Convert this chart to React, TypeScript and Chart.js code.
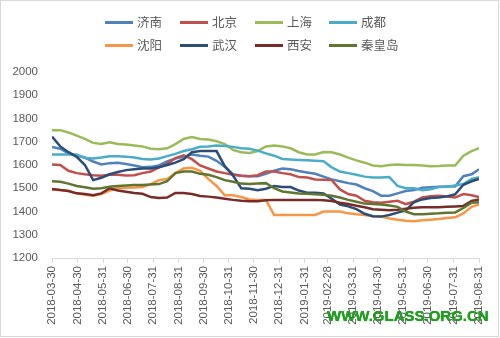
import React, { useEffect, useRef } from 'react';
import { Chart, registerables } from 'chart.js';

Chart.register(...registerables);

// Sample dates (roughly every 10 days)
const sampleDates = [
  '2018-03-30', '2018-04-09', '2018-04-19', '2018-04-29', '2018-05-09', '2018-05-19', '2018-05-29',
  '2018-06-08', '2018-06-18', '2018-06-28', '2018-07-08', '2018-07-18', '2018-07-28', '2018-08-07',
  '2018-08-17', '2018-08-27', '2018-09-06', '2018-09-16', '2018-09-26', '2018-10-06', '2018-10-16',
  '2018-10-26', '2018-11-05', '2018-11-15', '2018-11-25', '2018-12-05', '2018-12-15', '2018-12-25',
  '2019-01-04', '2019-01-14', '2019-01-24', '2019-02-03', '2019-02-13', '2019-02-23', '2019-03-05',
  '2019-03-15', '2019-03-25', '2019-04-04', '2019-04-14', '2019-04-24', '2019-05-04', '2019-05-14',
  '2019-05-24', '2019-06-03', '2019-06-13', '2019-06-23', '2019-07-03', '2019-07-13', '2019-07-23',
  '2019-08-02', '2019-08-12', '2019-08-22', '2019-08-31',
];

const tickLabels = [
  '2018-03-30', '2018-04-30', '2018-05-31', '2018-06-30', '2018-07-31', '2018-08-31',
  '2018-09-30', '2018-10-31', '2018-11-30', '2018-12-31', '2019-01-31', '2019-02-28',
  '2019-03-31', '2019-04-30', '2019-05-31', '2019-06-30', '2019-07-31', '2019-08-31',
];

const seriesNames = ['济南', '北京', '上海', '成都', '沈阳', '武汉', '西安', '秦皇岛'];
const seriesColors = ['#4F81BD', '#C0504D', '#9BBB59', '#4BACC6', '#F79646', '#2C4D75', '#772C2A', '#5F7530'];

const jinan = [
  1678, 1670, 1650, 1640, 1632, 1615, 1602, 1608, 1610, 1604, 1598, 1590, 1592, 1598,
  1615, 1628, 1636, 1645, 1640, 1636, 1618, 1592, 1560, 1554, 1552, 1552, 1562, 1575,
  1585, 1582, 1574, 1568, 1562, 1550, 1538, 1530, 1522, 1516, 1500, 1488, 1468, 1468,
  1478, 1488, 1492, 1502, 1504, 1506, 1508, 1508, 1552, 1560, 1582,
];
const beijing = [
  1602, 1600, 1575, 1565, 1560, 1556, 1554, 1558, 1558, 1555, 1556, 1565, 1572, 1590,
  1605, 1630, 1642, 1625, 1598, 1585, 1572, 1565, 1558, 1554, 1552, 1556, 1572, 1572,
  1565, 1560, 1548, 1546, 1538, 1537, 1535, 1495, 1475, 1468, 1446, 1440, 1438, 1442,
  1446, 1432, 1442, 1460, 1466, 1468, 1465, 1460, 1475, 1470, 1462,
];
const shanghai = [
  1750, 1750, 1740, 1726, 1712, 1695, 1690, 1698, 1690, 1688, 1684, 1680, 1670, 1668,
  1672, 1690, 1712, 1720, 1712, 1710, 1702, 1690, 1665, 1655, 1652, 1660, 1680, 1684,
  1680, 1672, 1655, 1645, 1645, 1656, 1655, 1645, 1632, 1620, 1610, 1598, 1595, 1600,
  1602, 1600, 1600, 1598, 1595, 1596, 1598, 1598, 1640, 1660, 1672,
];
const chengdu = [
  1645, 1645, 1645, 1645, 1630, 1628, 1632, 1638, 1638, 1636, 1632, 1626, 1624, 1628,
  1638, 1648, 1660, 1668, 1678, 1680, 1684, 1682, 1678, 1672, 1670, 1662, 1650, 1640,
  1626, 1624, 1622, 1620, 1618, 1616, 1590, 1572, 1565, 1558, 1550, 1546, 1546, 1548,
  1510, 1500, 1500, 1492, 1496, 1505, 1506, 1512, 1518, 1540, 1548,
];
const shenyang = [
  1494, 1492, 1488, 1478, 1472, 1468, 1475, 1490, 1500, 1502, 1503, 1505, 1518, 1535,
  1540, 1565, 1585, 1588, 1575, 1540, 1510, 1470, 1470, 1462, 1452, 1450, 1450, 1385,
  1385, 1385, 1385, 1385, 1385, 1400, 1400, 1400, 1392, 1388, 1385, 1380, 1378, 1370,
  1365, 1360, 1358, 1362, 1365, 1368, 1372, 1375, 1392, 1420, 1430,
];
const wuhan = [
  1722, 1680, 1655, 1635, 1600, 1535, 1545, 1560, 1570, 1578, 1582, 1585, 1585, 1590,
  1600, 1610, 1625, 1655, 1660, 1660, 1660, 1595, 1555, 1500, 1498, 1492, 1498, 1510,
  1505, 1505, 1490, 1481, 1481, 1478, 1455, 1430, 1422, 1410, 1390, 1380, 1378, 1385,
  1395, 1405, 1440, 1452, 1458, 1460, 1465, 1474, 1515, 1530, 1540,
];
const xian = [
  1497, 1492, 1488, 1478, 1475, 1470, 1478, 1500, 1490, 1485, 1480, 1476, 1462, 1458,
  1460, 1480, 1480, 1475, 1467, 1464, 1460, 1455, 1450, 1446, 1444, 1444, 1448, 1450,
  1450, 1450, 1450, 1450, 1450, 1448, 1445, 1438, 1432, 1425, 1418, 1410, 1408, 1405,
  1408, 1412, 1416, 1418, 1418, 1418, 1420, 1422, 1424, 1445, 1452,
];
const qinhuangdao = [
  1530, 1528, 1520, 1510, 1504, 1498, 1500, 1506, 1510, 1512, 1514, 1514, 1516, 1518,
  1530, 1565, 1572, 1572, 1562, 1558, 1548, 1535, 1528, 1520, 1518, 1520, 1522, 1500,
  1486, 1482, 1477, 1476, 1474, 1472, 1468, 1460, 1450, 1442, 1434, 1432, 1430, 1426,
  1420, 1400, 1388, 1388, 1390, 1392, 1395, 1396, 1415, 1438, 1440,
];

const seriesValues = [jinan, beijing, shanghai, chengdu, shenyang, wuhan, xian, qinhuangdao];

const DAY_MS = 86400000;
const startMs = Date.parse(sampleDates[0]);
const toDay = (s: string) => Math.round((Date.parse(s) - startMs) / DAY_MS);

const TEXT_COLOR = '#595959';
const AXIS_FONT = { family: "'Liberation Sans', Arial, sans-serif", size: 11.5 };

function Legend() {
  const lefts = [105, 180, 255, 329];
  const tops = [22, 45];
  return (
    <>
      {seriesNames.map((name, i) => {
        const left = lefts[i % 4];
        const top = tops[Math.floor(i / 4)];
        return (
          <div
            key={name}
            style={{
              position: 'absolute',
              left,
              top: top - 9,
              height: 18,
              display: 'flex',
              alignItems: 'center',
              whiteSpace: 'nowrap',
            }}
          >
            <span style={{ display: 'inline-block', width: 28, height: 3, background: seriesColors[i] }} />
            <span
              style={{
                marginLeft: 4,
                fontFamily: "'Noto Sans CJK SC', sans-serif",
                fontSize: 12.5,
                color: TEXT_COLOR,
                lineHeight: '18px',
              }}
            >
              {name}
            </span>
          </div>
        );
      })}
    </>
  );
}

export default function App() {
  const canvasRef = useRef<HTMLCanvasElement>(null);

  useEffect(() => {
    const xs = sampleDates.map(toDay);
    const tickDays = tickLabels.map(toDay);
    const chart = new Chart(canvasRef.current as HTMLCanvasElement, {
      type: 'line',
      data: {
        datasets: seriesValues.map((vals, i) => ({
          label: seriesNames[i],
          data: vals.map((y, j) => ({ x: xs[j], y })),
          borderColor: seriesColors[i],
          backgroundColor: seriesColors[i],
          borderWidth: 2.5,
          pointRadius: 0,
          tension: 0,
          fill: false,
          order: seriesValues.length - i,
        })),
      },
      options: {
        animation: false,
        responsive: true,
        maintainAspectRatio: false,
        layout: { padding: { top: 72, right: 21, left: 0, bottom: 0 } },
        plugins: { legend: { display: false }, tooltip: { enabled: false } },
        scales: {
          x: {
            type: 'linear',
            min: tickDays[0],
            max: tickDays[tickDays.length - 1],
            afterBuildTicks: (scale: any) => {
              scale.ticks = tickDays.map((v) => ({ value: v }));
            },
            afterFit: (scale: any) => {
              scale.height = 80;
            },
            ticks: {
              autoSkip: false,
              minRotation: 90,
              maxRotation: 90,
              padding: 3,
              color: TEXT_COLOR,
              font: AXIS_FONT,
              callback: (_v: any, idx: number) => tickLabels[idx],
            },
            grid: { drawOnChartArea: false, drawTicks: true, tickLength: 5, color: '#d9d9d9' },
            border: { display: true, color: '#d9d9d9' },
          },
          y: {
            min: 1200,
            max: 2000,
            afterFit: (scale: any) => {
              scale.width = 52;
            },
            ticks: {
              stepSize: 100,
              padding: 14,
              color: TEXT_COLOR,
              font: AXIS_FONT,
              callback: (v: any) => String(v),
            },
            grid: { display: false, drawTicks: false },
            border: { display: false },
          },
        },
      },
    });
    return () => chart.destroy();
  }, []);

  return (
    <div style={{ position: 'fixed', left: 0, top: 0, width: 500, height: 338, background: '#fff' }}>
      <div style={{ position: 'absolute', left: 0, top: 0, width: 500, height: 338 }}>
        <canvas ref={canvasRef} />
      </div>
      <Legend />
      <div
        style={{
          position: 'absolute',
          left: 327,
          top: 307,
          fontFamily: "'Liberation Sans', Arial, sans-serif",
          fontWeight: 'bold',
          fontSize: 15,
          color: '#20a020',
          textShadow: '0 0 1px #0b5e0b',
          whiteSpace: 'nowrap',
        }}
      >
        WWW.GLASS.ORG.CN
      </div>
      <div
        style={{
          position: 'absolute',
          left: 0,
          top: 0,
          width: 499,
          height: 337,
          border: '1px solid #d9d9d9',
          boxSizing: 'border-box',
          pointerEvents: 'none',
        }}
      />
    </div>
  );
}
